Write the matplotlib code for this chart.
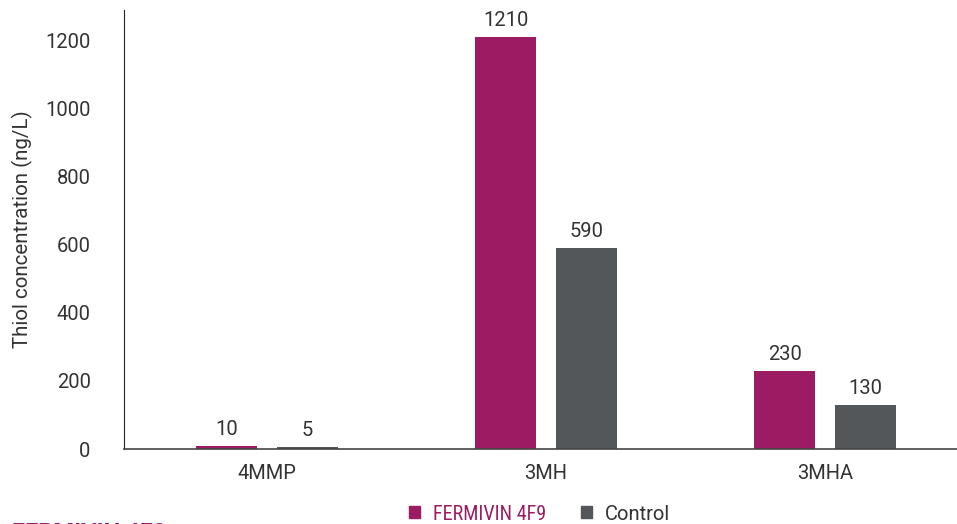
import numpy as np
import matplotlib
matplotlib.use('Agg')
from matplotlib import pyplot as plt
from matplotlib.patches import Patch

categories = ['4MMP', '3MH', '3MHA']
fermivin = [10, 1210, 230]
control = [5, 590, 130]
series_names = ['FERMIVIN 4F9', 'Control']
yticks = [0, 200, 400, 600, 800, 1000, 1200]

col_fermivin = '#9b1c63'
col_control = '#54575a'
txt = '#333333'

plt.rcParams['font.family'] = ['Roboto', 'DejaVu Sans']

fig = plt.figure(figsize=(9.57, 5.24), dpi=100)
ax = fig.add_axes([0.1296, 0.1431, 0.8704, 0.8378])

x = np.arange(len(categories))
w = 0.22
b1 = ax.bar(x - 0.145, fermivin, w, color=col_fermivin)
b2 = ax.bar(x + 0.145, control, w, color=col_control)

for bars, vals in ((b1, fermivin), (b2, control)):
    for bar, v in zip(bars, vals):
        ax.annotate(str(v), (bar.get_x() + bar.get_width() / 2, v),
                    xytext=(0, 5), textcoords='offset points',
                    ha='center', va='bottom', fontsize=14.5, color=txt)

ax.set_xlim(-0.513, 2.473)
ax.set_ylim(0, 1288)
ax.set_xticks(x)
ax.set_xticklabels(categories)
ax.set_yticks(yticks)
ax.tick_params(axis='both', length=0, labelsize=14.5, labelcolor=txt, pad=11)
ax.tick_params(axis='y', pad=24)
ax.set_ylabel('Thiol concentration (ng/L)', fontsize=14.8, color=txt, labelpad=9)

for s in ('top', 'right'):
    ax.spines[s].set_visible(False)
ax.spines['left'].set_color('#222222')
ax.spines['bottom'].set_color('#444444')
ax.spines['bottom'].set_linewidth(1.2)

handles = [Patch(color=col_fermivin), Patch(color=col_control)]
leg = fig.legend(handles, series_names, loc='center', bbox_to_anchor=(0.564, 0.019),
                 ncol=2, frameon=False, fontsize=14.5, handlelength=0.55, handleheight=0.55,
                 handletextpad=0.65, columnspacing=1.7)
leg.get_texts()[0].set_color(col_fermivin)
leg.get_texts()[0].set_family(['Roboto Condensed', 'Liberation Sans Narrow', 'DejaVu Sans Condensed', 'DejaVu Sans'])
leg.get_texts()[0].set_fontstretch('condensed')
leg.get_texts()[1].set_color(txt)

# cut-off heading at the very bottom
fig.text(12 / 957, 1 - 522 / 524, 'FERMIVIN 4F9', fontsize=17, fontweight='bold',
         color=col_fermivin, va='top', ha='left')

fig.savefig('out.png', dpi=100)
